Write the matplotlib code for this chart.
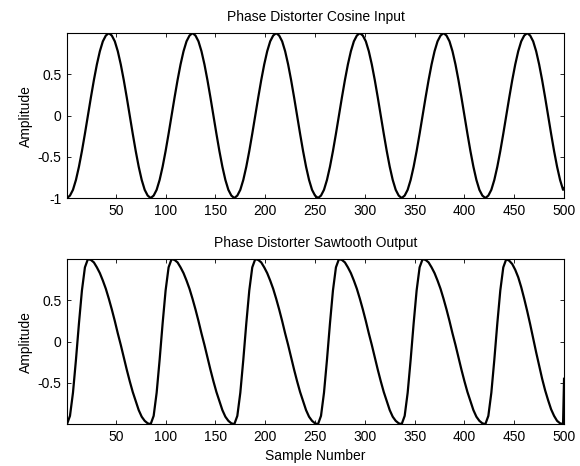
import matplotlib
matplotlib.use("Agg")
import matplotlib.pyplot as plt

# sample numbers (every 3rd sample, plus the last one)
samples = list(range(1, 500, 3)) + [500]

# cosine input, one row per period of 84 samples
cosine_input = [
    -1, -0.97, -0.90, -0.78, -0.62, -0.43, -0.22, 0, 0.22, 0.43, 0.62, 0.78, 0.90, 0.97,
    1, 0.97, 0.90, 0.78, 0.62, 0.43, 0.22, 0, -0.22, -0.43, -0.62, -0.78, -0.90, -0.97,
    -1, -0.97, -0.90, -0.78, -0.62, -0.43, -0.22, 0, 0.22, 0.43, 0.62, 0.78, 0.90, 0.97,
    1, 0.97, 0.90, 0.78, 0.62, 0.43, 0.22, 0, -0.22, -0.43, -0.62, -0.78, -0.90, -0.97,
    -1, -0.97, -0.90, -0.78, -0.62, -0.43, -0.22, 0, 0.22, 0.43, 0.62, 0.78, 0.90, 0.97,
    1, 0.97, 0.90, 0.78, 0.62, 0.43, 0.22, 0, -0.22, -0.43, -0.62, -0.78, -0.90, -0.97,
    -1, -0.97, -0.90, -0.78, -0.62, -0.43, -0.22, 0, 0.22, 0.43, 0.62, 0.78, 0.90, 0.97,
    1, 0.97, 0.90, 0.78, 0.62, 0.43, 0.22, 0, -0.22, -0.43, -0.62, -0.78, -0.90, -0.97,
    -1, -0.97, -0.90, -0.78, -0.62, -0.43, -0.22, 0, 0.22, 0.43, 0.62, 0.78, 0.90, 0.97,
    1, 0.97, 0.90, 0.78, 0.62, 0.43, 0.22, 0, -0.22, -0.43, -0.62, -0.78, -0.90, -0.97,
    -1, -0.97, -0.90, -0.78, -0.62, -0.43, -0.22, 0, 0.22, 0.43, 0.62, 0.78, 0.90, 0.97,
    1, 0.97, 0.90, 0.78, 0.62, 0.43, 0.22, 0, -0.22, -0.43, -0.62, -0.78, -0.90,
    -0.88,
]

# sawtooth output: fast rise, slow fall
sawtooth_output = [
    -1, -0.90, -0.62, -0.22, 0.22, 0.62, 0.90, 1, 0.99, 0.96, 0.90, 0.83, 0.74, 0.64,
    0.52, 0.39, 0.25, 0.10, -0.04, -0.19, -0.34, -0.48, -0.61, -0.72, -0.83, -0.91, -0.96, -0.99,
    -1, -0.90, -0.62, -0.22, 0.22, 0.62, 0.90, 1, 0.99, 0.96, 0.90, 0.83, 0.74, 0.64,
    0.52, 0.39, 0.25, 0.10, -0.04, -0.19, -0.34, -0.48, -0.61, -0.72, -0.83, -0.91, -0.96, -0.99,
    -1, -0.90, -0.62, -0.22, 0.22, 0.62, 0.90, 1, 0.99, 0.96, 0.90, 0.83, 0.74, 0.64,
    0.52, 0.39, 0.25, 0.10, -0.04, -0.19, -0.34, -0.48, -0.61, -0.72, -0.83, -0.91, -0.96, -0.99,
    -1, -0.90, -0.62, -0.22, 0.22, 0.62, 0.90, 1, 0.99, 0.96, 0.90, 0.83, 0.74, 0.64,
    0.52, 0.39, 0.25, 0.10, -0.04, -0.19, -0.34, -0.48, -0.61, -0.72, -0.83, -0.91, -0.96, -0.99,
    -1, -0.90, -0.62, -0.22, 0.22, 0.62, 0.90, 1, 0.99, 0.96, 0.90, 0.83, 0.74, 0.64,
    0.52, 0.39, 0.25, 0.10, -0.04, -0.19, -0.34, -0.48, -0.61, -0.72, -0.83, -0.91, -0.96, -0.99,
    -1, -0.90, -0.62, -0.22, 0.22, 0.62, 0.90, 1, 0.98, 0.94, 0.87, 0.78, 0.66, 0.52,
    0.37, 0.21, 0.04, -0.13, -0.29, -0.45, -0.59, -0.71, -0.82, -0.90, -0.96, -0.99, -1,
    -0.45,
]

top_yticks = [-1, -0.5, 0, 0.5]
bottom_yticks = [-0.5, 0, 0.5]
xticks = [50, 100, 150, 200, 250, 300, 350, 400, 450, 500]


def style_axis(ax, yticks, ylim):
    ax.set_xlim(1, 500)
    ax.set_ylim(*ylim)
    ax.set_xticks(xticks)
    ax.set_yticks(yticks)
    ax.set_yticklabels([f"{t:g}" for t in yticks])
    ax.tick_params(direction="in", length=3, width=0.6, top=True, right=True,
                   labelsize=10, pad=4)
    for sp in ax.spines.values():
        sp.set_linewidth(0.8)
    ax.set_ylabel("Amplitude", fontsize=10, labelpad=3)


def main():
    plt.rcParams['font.family'] = ['Liberation Sans', 'DejaVu Sans']
    fig = plt.figure(figsize=(5.8, 4.66), dpi=100)

    ax1 = fig.add_axes([0.1155, 0.575, 0.857, 0.354])
    ax1.plot(samples, cosine_input, color="black", lw=1.6)
    style_axis(ax1, top_yticks, (-1, 1))
    ax1.set_title("Phase Distorter Cosine Input", fontsize=10, pad=9)

    ax2 = fig.add_axes([0.1155, 0.090, 0.857, 0.354])
    ax2.plot(samples, sawtooth_output, color="black", lw=1.6)
    style_axis(ax2, bottom_yticks, (-0.999, 1))
    ax2.set_title("Phase Distorter Sawtooth Output", fontsize=10, pad=9)
    ax2.set_xlabel("Sample Number", fontsize=10, labelpad=4)

    fig.savefig("out.png", dpi=100)


if __name__ == "__main__":
    main()
